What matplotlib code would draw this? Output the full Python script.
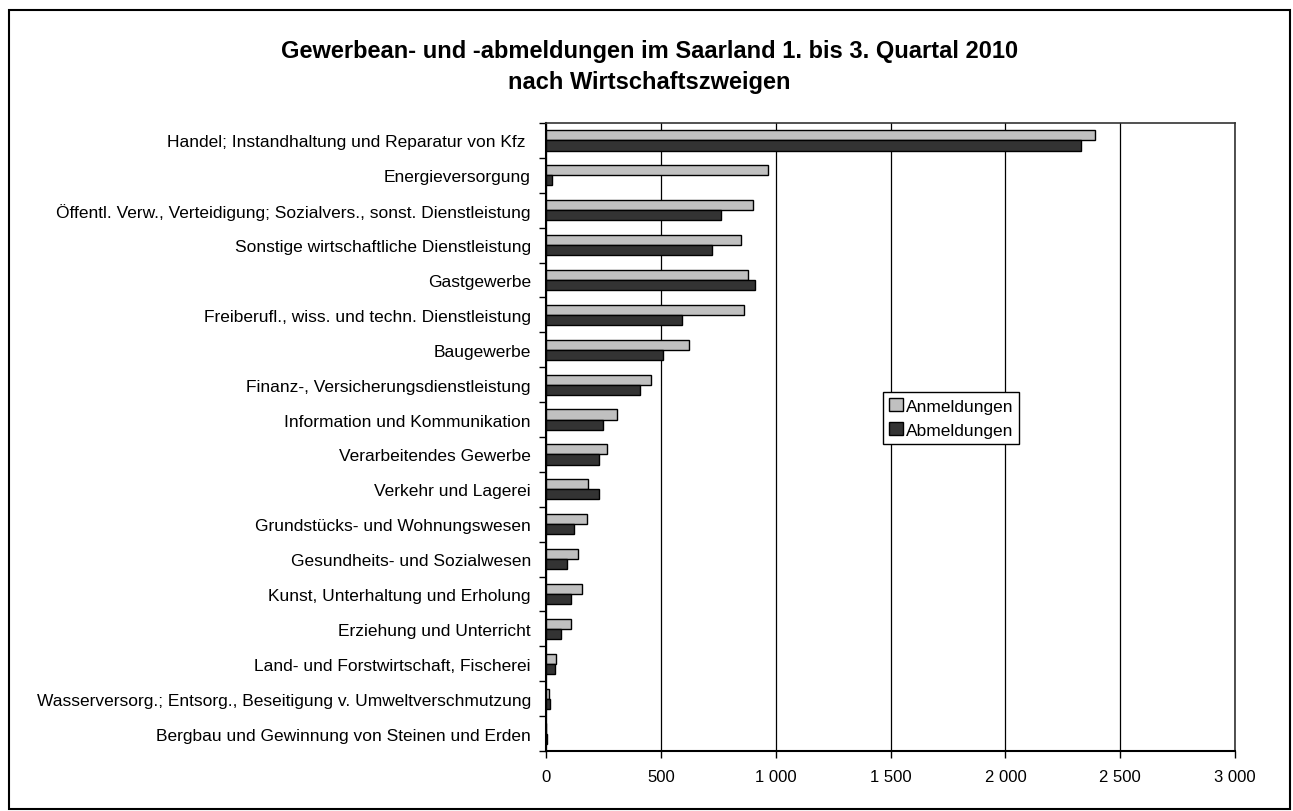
import numpy as np
import matplotlib.pyplot as plt
from matplotlib.patches import Rectangle

plt.rcParams['font.family'] = ['Liberation Sans', 'DejaVu Sans']

# Wirtschaftszweige (von oben nach unten)
categories = [
    "Handel; Instandhaltung und Reparatur von Kfz ",
    "Energieversorgung",
    "Öffentl. Verw., Verteidigung; Sozialvers., sonst. Dienstleistung",
    "Sonstige wirtschaftliche Dienstleistung",
    "Gastgewerbe",
    "Freiberufl., wiss. und techn. Dienstleistung",
    "Baugewerbe",
    "Finanz-, Versicherungsdienstleistung",
    "Information und Kommunikation",
    "Verarbeitendes Gewerbe",
    "Verkehr und Lagerei",
    "Grundstücks- und Wohnungswesen",
    "Gesundheits- und Sozialwesen",
    "Kunst, Unterhaltung und Erholung",
    "Erziehung und Unterricht",
    "Land- und Forstwirtschaft, Fischerei",
    "Wasserversorg.; Entsorg., Beseitigung v. Umweltverschmutzung",
    "Bergbau und Gewinnung von Steinen und Erden",
]
anmeldungen = [2392, 968, 903, 847, 880, 864, 624, 457, 310, 267, 184, 180, 141, 157, 109, 43, 14, 2]
abmeldungen = [2331, 27, 761, 723, 908, 593, 510, 408, 249, 229, 229, 120, 92, 109, 65, 39, 16, 6]
x_ticks = [0, 500, 1000, 1500, 2000, 2500, 3000]
x_labels = ["0", "500", "1 000", "1 500", "2 000", "2 500", "3 000"]

fig = plt.figure(figsize=(12.93, 8.12), dpi=100)
ax = fig.add_axes([0.4223, 0.0739, 0.5329, 0.7734])

n = len(categories)
y = np.arange(n)
h = 0.29
ax.barh(y - h / 2, anmeldungen, height=h, color="#c0c0c0", edgecolor="black",
        linewidth=1, label="Anmeldungen", zorder=3)
ax.barh(y + h / 2, abmeldungen, height=h, color="#333333", edgecolor="black",
        linewidth=1, label="Abmeldungen", zorder=3)

ax.set_ylim(n - 0.5, -0.5)
ax.set_xlim(0, 3000)

# Kategorienbeschriftung mittig, Striche an den Grenzen
ax.set_yticks(y)
ax.set_yticklabels(categories, fontsize=12.5)
ax.tick_params(axis="y", which="major", length=0, pad=11)
ax.set_yticks(np.arange(n + 1) - 0.5, minor=True)
ax.tick_params(axis="y", which="minor", length=5, width=1, direction="out")

ax.set_xticks(x_ticks)
ax.set_xticklabels(x_labels, fontsize=12)
ax.tick_params(axis="x", length=5, width=1, direction="out", pad=8)

ax.grid(axis="x", color="black", linewidth=0.9, zorder=0)
for s in ["top", "right"]:
    ax.spines[s].set_color("#333333")
    ax.spines[s].set_linewidth(1.2)
for s in ["left", "bottom"]:
    ax.spines[s].set_linewidth(1.5)

leg = ax.legend(loc="upper left", bbox_to_anchor=(0.489, 0.572), fontsize=12.5,
                frameon=True, fancybox=False, edgecolor="black", framealpha=1,
                handlelength=0.8, handleheight=0.8, handletextpad=0.15,
                borderpad=0.35, labelspacing=0.5, borderaxespad=0)
leg.get_frame().set_linewidth(1)

fig.text(0.502, 0.936, "Gewerbean- und -abmeldungen im Saarland 1. bis 3. Quartal 2010",
         ha="center", va="center", fontsize=17, fontweight="bold")
fig.text(0.502, 0.898, "nach Wirtschaftszweigen",
         ha="center", va="center", fontsize=17, fontweight="bold")

# Rahmen um das Diagramm
fig.patches.append(Rectangle((0.007, 0.003), 0.991, 0.983, transform=fig.transFigure,
                             fill=False, edgecolor="black", linewidth=1.5))

fig.savefig("out.png", dpi=100)
